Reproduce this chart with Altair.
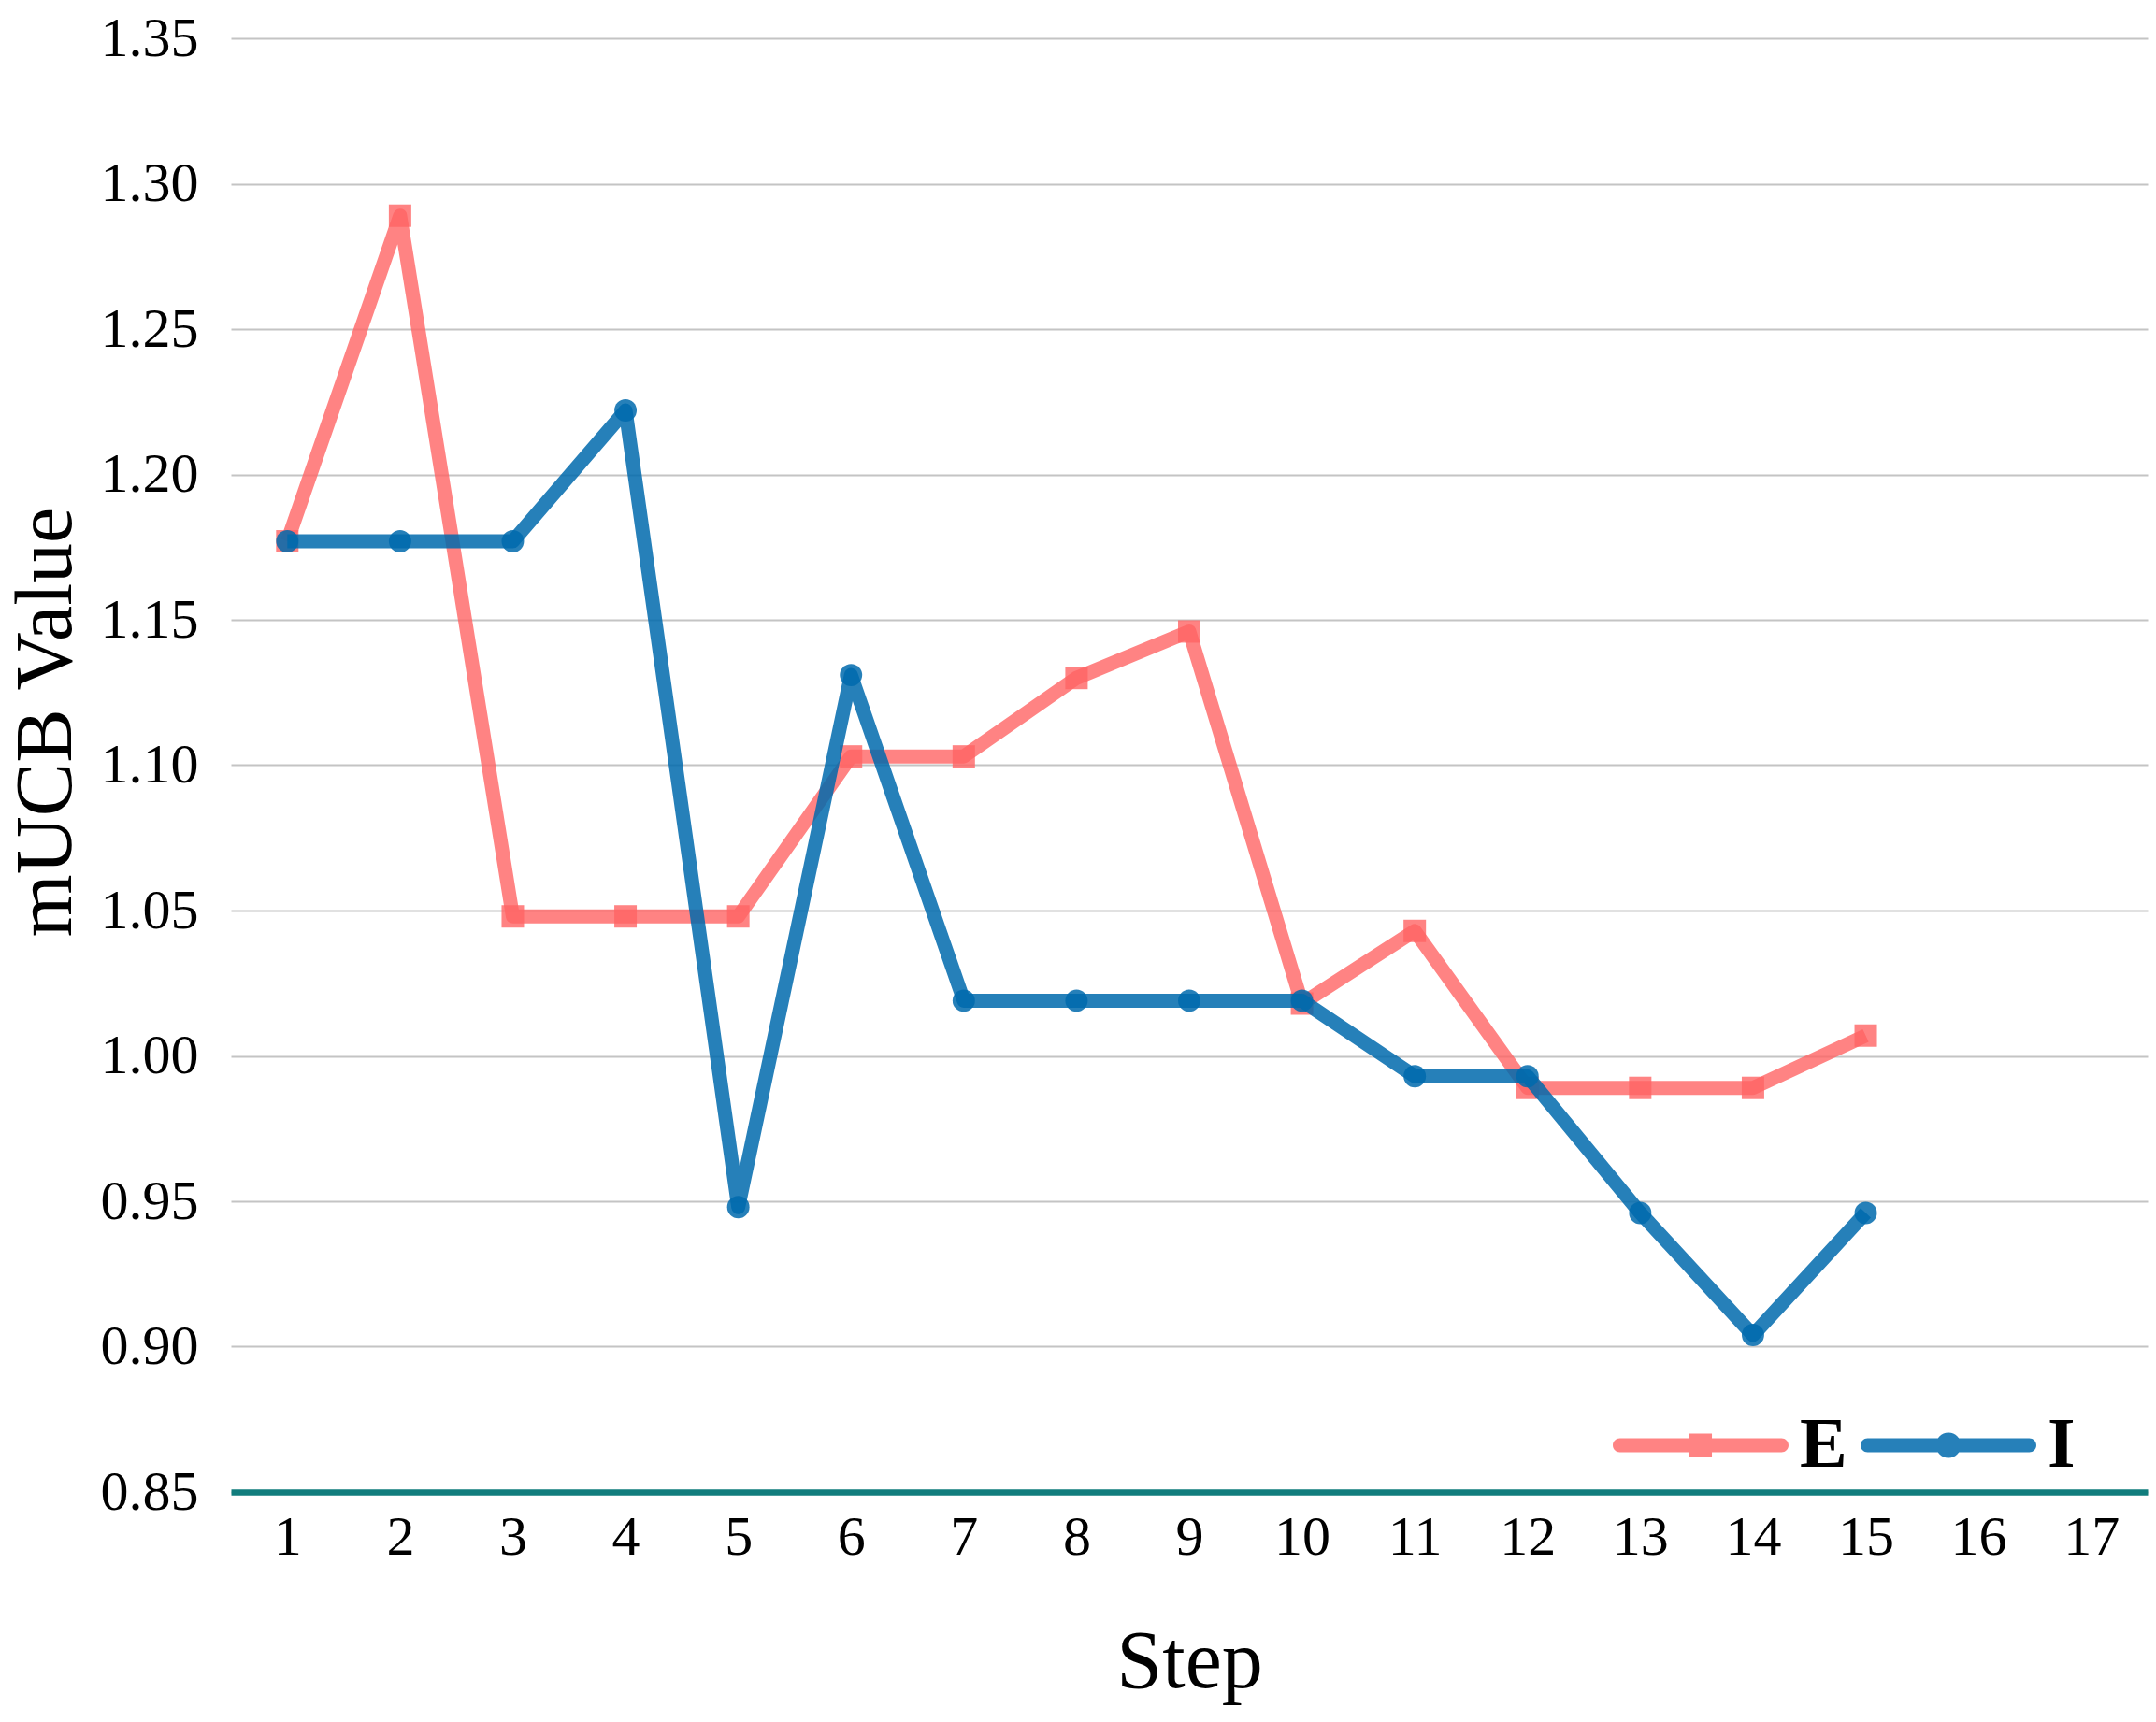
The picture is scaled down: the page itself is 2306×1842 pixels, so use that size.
import altair as alt
import pandas as pd

# mUCB value per step for the two series
steps = list(range(1, 16))
e_values = [1.177, 1.289, 1.048, 1.048, 1.048, 1.103, 1.103, 1.130, 1.146,
            1.018, 1.043, 0.989, 0.989, 0.989, 1.007]
i_values = [1.177, 1.177, 1.177, 1.222, 0.948, 1.131, 1.019, 1.019, 1.019,
            1.019, 0.993, 0.993, 0.946, 0.904, 0.946]

x_ticks = list(range(1, 18))
y_ticks = [0.85, 0.90, 0.95, 1.00, 1.05, 1.10, 1.15, 1.20, 1.25, 1.30, 1.35]

df = pd.DataFrame({
    "step": steps + steps,
    "value": e_values + i_values,
    "series": ["E"] * len(steps) + ["I"] * len(steps),
})

FONT = "Liberation Serif"
PINK = "#ff6464"
BLUE = "#006aad"

# legend glyphs: rounded line segment with the series marker on it
LINE_PART = ("M-0.92,-0.08 L0.92,-0.08 A0.08,0.08 0 0 1 0.92,0.08 "
             "L-0.92,0.08 A0.08,0.08 0 0 1 -0.92,-0.08 Z ")
PATH_E = LINE_PART + "M-0.128,-0.132 L0.128,-0.132 L0.128,0.132 L-0.128,0.132 Z"
PATH_I = LINE_PART + "M-0.144,0 A0.144,0.144 0 1 1 0.144,0 A0.144,0.144 0 1 1 -0.144,0 Z"

x_enc = alt.X(
    "step:Q",
    scale=alt.Scale(domain=[0.5, 17.5], nice=False, zero=False),
    axis=alt.Axis(
        values=x_ticks, format="d", title="Step", grid=False, ticks=False,
        tickSize=0, labelFont=FONT, labelFontSize=60, labelColor="black",
        labelPadding=19, domainColor="#117d7d", domainWidth=6.5,
        titleFont=FONT, titleFontSize=88, titleFontWeight="normal",
        titleColor="black", titlePadding=60, zindex=1,
    ),
)
y_enc = alt.Y(
    "value:Q",
    scale=alt.Scale(domain=[0.85, 1.35], nice=False, zero=False),
    axis=alt.Axis(
        values=y_ticks, format=".2f", title="mUCB Value", grid=True,
        gridColor="#c4c4c4", gridWidth=2, domain=False, ticks=False,
        tickSize=0, labelFont=FONT, labelFontSize=60, labelColor="black",
        labelPadding=35, titleFont=FONT, titleFontSize=86,
        titleFontWeight="normal", titleColor="black", titlePadding=14,
        titleY=731,
    ),
)

base = alt.Chart(df)


def series_layers(name, color, shape, size, path, legend_x, opacity):
    sub = base.transform_filter(alt.datum.series == name)
    line = sub.mark_line(
        color=color, opacity=opacity, strokeWidth=15, strokeJoin="round"
    ).encode(x=x_enc, y=y_enc)
    points = sub.mark_point(
        shape=shape, filled=True, size=size, opacity=opacity, strokeWidth=0
    ).encode(
        x=x_enc,
        y=y_enc,
        color=alt.Color(
            "series:N",
            scale=alt.Scale(domain=[name], range=[color]),
            legend=alt.Legend(
                title=None, orient="none", legendX=legend_x, legendY=1411,
                direction="horizontal", symbolType=path, symbolSize=35344,
                symbolOpacity=opacity, symbolStrokeWidth=0,
                symbolFillColor=color, labelFont=FONT, labelFontSize=76,
                labelFontWeight="bold", labelColor="black", labelOffset=12,
                padding=0,
            ),
        ),
    )
    return [line, points]


layers = (series_layers("E", PINK, "square", 576, PATH_E, 1478, 0.8)
          + series_layers("I", BLUE, "circle", 572, PATH_I, 1743, 0.85))

chart = (
    alt.layer(*layers)
    .resolve_scale(color="independent")
    .resolve_legend(color="independent")
    .properties(
        width=2050,
        height=1555,
        autosize=alt.AutoSizeParams(type="none"),
        padding={"left": 247, "top": 41, "right": 9, "bottom": 246},
        background="white",
    )
    .configure_view(stroke=None)
)

chart.save("out.html", embed_options={"renderer": "svg", "actions": False})
